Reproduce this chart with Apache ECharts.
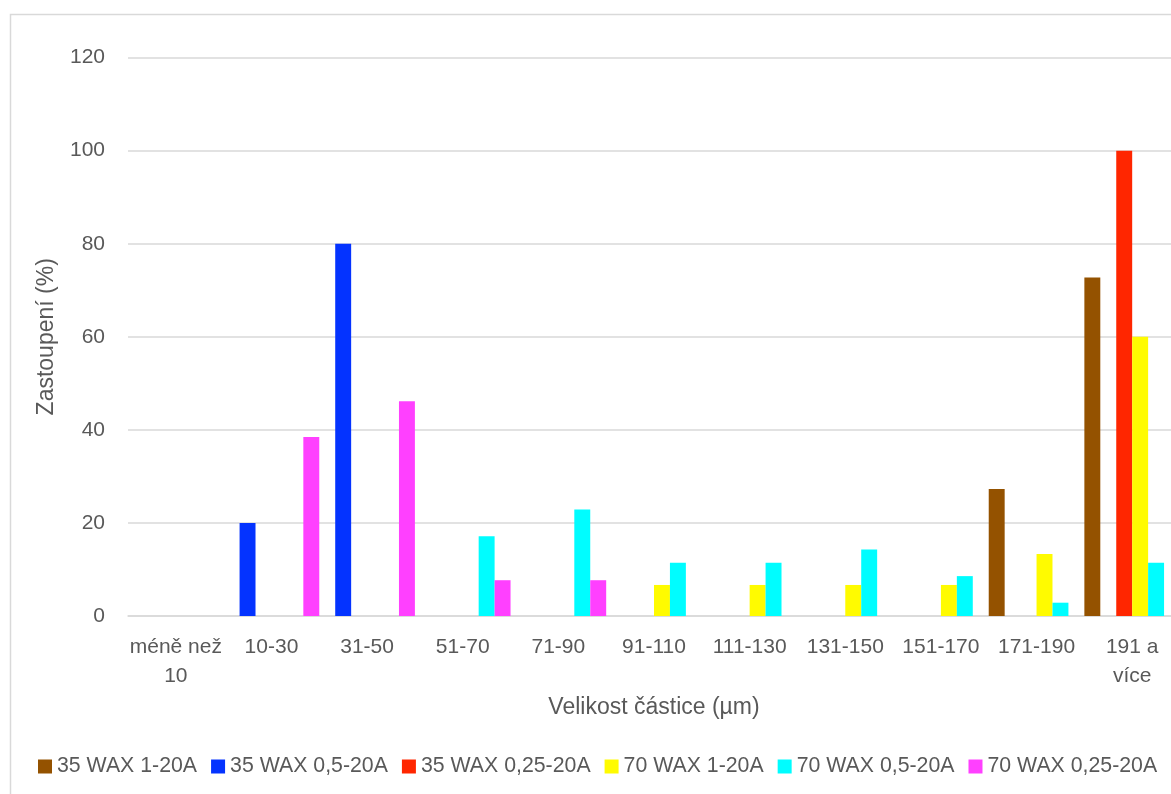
<!DOCTYPE html>
<html>
<head>
<meta charset="utf-8">
<script src="https://cdn.jsdelivr.net/npm/echarts@6/dist/echarts.min.js"></script>
<style>
  html, body { margin: 0; padding: 0; background: #fff; }
  #main { width: 1171px; height: 794px; }
</style>
</head>
<body>
<div id="main"></div>
<script>
var categories = ['méně než 10', '10-30', '31-50', '51-70', '71-90', '91-110', '111-130', '131-150', '151-170', '171-190', '191 a více'];
var seriesNames = ['35 WAX 1-20A', '35 WAX 0,5-20A', '35 WAX 0,25-20A', '70 WAX 1-20A', '70 WAX 0,5-20A', '70 WAX 0,25-20A'];
var wax35_1 = [0, 0, 0, 0, 0, 0, 0, 0, 0, 27.27, 72.73];
var wax35_05 = [0, 20, 80, 0, 0, 0, 0, 0, 0, 0, 0];
var wax35_025 = [0, 0, 0, 0, 0, 0, 0, 0, 0, 0, 100];
var wax70_1 = [0, 0, 0, 0, 0, 6.67, 6.67, 6.67, 6.67, 13.33, 60];
var wax70_05 = [0, 0, 0, 17.14, 22.86, 11.43, 11.43, 14.29, 8.57, 2.86, 11.43];
var wax70_025 = [0, 38.46, 46.15, 7.69, 7.69, 0, 0, 0, 0, 0, 0];
var yTicks = { min: 0, max: 120, step: 20 };

var colors = ['#945200', '#0433FF', '#FF2600', '#FFFB00', '#00FDFF', '#FF40FF'];
var values = [wax35_1, wax35_05, wax35_025, wax70_1, wax70_05, wax70_025];
var font = 'Liberation Sans, Arial, sans-serif';
var txt = '#595959';

var myChart = echarts.init(document.getElementById('main'));
var option = {
    backgroundColor: '#fff',
    animation: false,
    color: colors,
    textStyle: { fontFamily: font },
    graphic: [{ // rámeček grafu
        type: 'rect',
        shape: { x: 10.5, y: 14.5, width: 1300, height: 900 },
        style: { fill: 'none', stroke: '#d9d9d9', lineWidth: 1.5 },
        silent: true
    }],
    // graf je vpravo oříznutý, proto šířka přesahuje plátno
    grid: { left: 128, width: 1052, top: 57.6, bottom: 178, outerBoundsMode: 'none' },
    legend: {
        left: 33,
        top: 751,
        icon: 'rect',
        itemWidth: 14,
        itemHeight: 14,
        itemGap: 14,
        textStyle: { fontSize: 21.3, color: txt, fontFamily: font },
        data: seriesNames
    },
    xAxis: {
        type: 'category',
        data: categories,
        name: 'Velikost částice (µm)',
        nameLocation: 'middle',
        nameGap: 71,
        nameTextStyle: { fontSize: 23, color: txt, fontFamily: font },
        axisLine: { lineStyle: { color: '#d9d9d9', width: 1.5 } },
        axisTick: { show: false },
        axisLabel: {
            fontSize: 21,
            color: txt,
            margin: 17,
            lineHeight: 29,
            interval: 0,
            formatter: function (v) {
                return v.length > 8 ? v.replace(/ (\S+)$/, '\n$1') : v;
            }
        }
    },
    yAxis: {
        type: 'value',
        min: yTicks.min,
        max: yTicks.max,
        interval: yTicks.step,
        name: 'Zastoupení (%)',
        nameLocation: 'middle',
        nameGap: 70,
        nameTextStyle: { fontSize: 23, color: txt, fontFamily: font },
        axisLine: { show: false },
        axisTick: { show: false },
        axisLabel: { fontSize: 21, color: txt, margin: 23 },
        splitLine: { lineStyle: { color: '#d9d9d9', width: 1.5 } }
    },
    series: seriesNames.map(function (n, i) {
        return {
            name: n,
            type: 'bar',
            data: values[i],
            barGap: '0%',
            barCategoryGap: '0%',
            itemStyle: { color: colors[i] }
        };
    })
};
myChart.setOption(option);
</script>
</body>
</html>
